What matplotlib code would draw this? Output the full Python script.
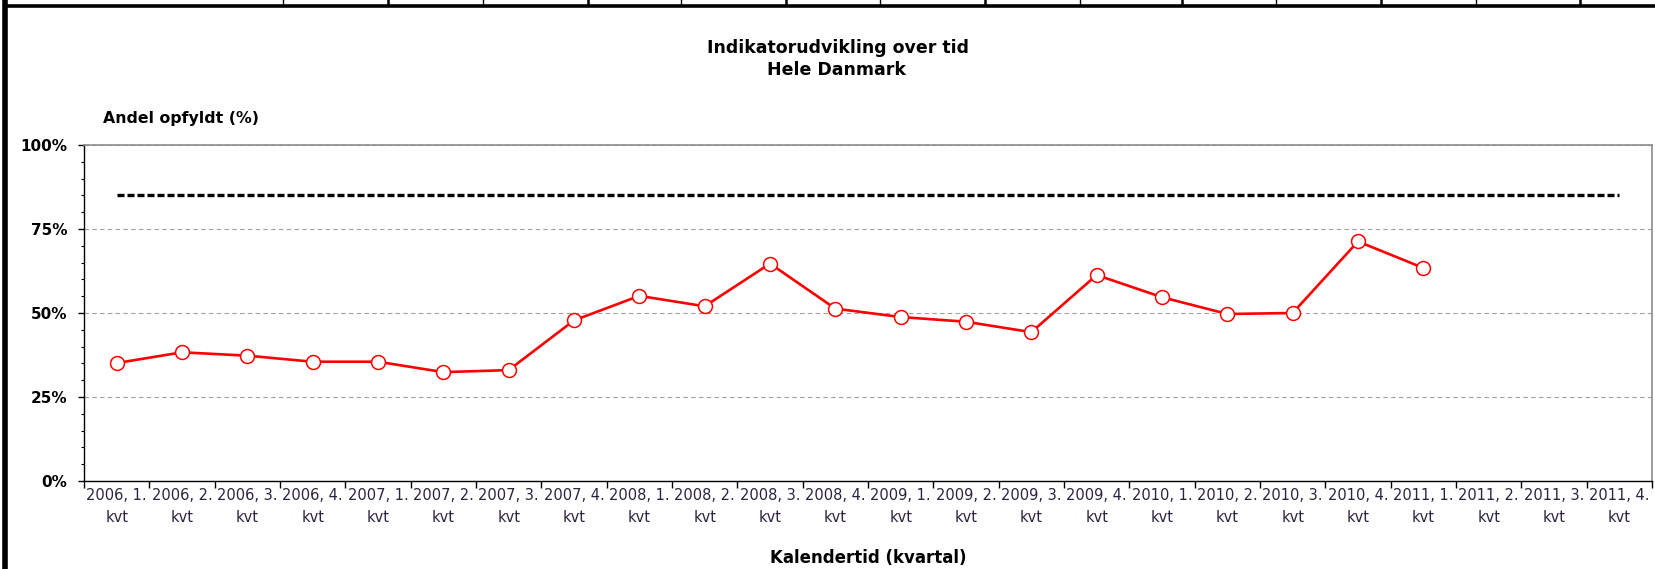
import numpy as np
import matplotlib
matplotlib.use("Agg")
import matplotlib.pyplot as plt
from matplotlib.lines import Line2D
from matplotlib.ticker import MultipleLocator, FixedLocator

# ==========================
# Data
# ==========================
categories = [
    f"{year}, {q}.\nkvt" for year in range(2006, 2012) for q in range(1, 5)
]
values = [35.1, 38.3, 37.3, 35.5, 35.5, 32.4, 33.0, 47.8,
          55.1, 52.0, 64.7, 51.3, 48.8, 47.4, 44.3, 61.3,
          54.7, 49.7, 50.0, 71.3, 63.4]
target = 85
yticks = [0, 25, 50, 75, 100]
ytick_labels = ["0%", "25%", "50%", "75%", "100%"]

title_lines = ["Indikatorudvikling over tid", "Hele Danmark"]
ylabel = "Andel opfyldt (%)"
xlabel = "Kalendertid (kvartal)"

# ==========================
# Figure
# ==========================
W, H = 1656, 569
fig = plt.figure(figsize=(W / 100, H / 100), dpi=100)
fig.patch.set_facecolor("white")

ax = fig.add_axes([84 / W, 1 - 481 / H, (1652 - 84) / W, (481 - 145) / H])

x = np.arange(len(values))
ax.plot(x, values, color="#ff0000", linewidth=1.9,
        marker="o", markersize=10, markerfacecolor="white",
        markeredgecolor="#ff0000", markeredgewidth=1.1, zorder=4)

ax.hlines(target, 0, len(categories) - 1, colors="black",
          linewidth=2.4, linestyles=(0, (2.1, 0.9)), zorder=3)

ax.set_xlim(-0.5, len(categories) - 0.5)
ax.set_ylim(0, 100)

# x ticks: labels at centres, tick marks at boundaries
ax.xaxis.set_major_locator(FixedLocator(np.arange(len(categories))))
ax.set_xticklabels(categories, fontsize=10.5, color="#2d2340",
                   linespacing=1.6)
ax.xaxis.set_minor_locator(FixedLocator(np.arange(-0.5, len(categories))))
ax.tick_params(axis="x", which="major", length=0, pad=5)
ax.tick_params(axis="x", which="minor", length=5, width=1, color="black",
               direction="out")

# y ticks
ax.set_yticks(yticks)
ax.set_yticklabels(ytick_labels, fontsize=11, fontweight="bold")
ax.yaxis.set_minor_locator(MultipleLocator(5))
ax.tick_params(axis="y", which="major", length=4, width=1, pad=8)
ax.tick_params(axis="y", which="minor", length=2.5, width=0.8)

ax.grid(axis="y", which="major", color="#a0a0a0",
        linestyle=(0, (4, 3)), linewidth=0.8, zorder=1)
ax.set_axisbelow(True)

for side in ["left", "bottom"]:
    ax.spines[side].set_color("black")
    ax.spines[side].set_linewidth(1.0)
for side in ["top", "right"]:
    ax.spines[side].set_color("#8c8c8c")
    ax.spines[side].set_linewidth(1.2)

# ==========================
# Text
# ==========================
fig.text(838 / W, 1 - 48 / H, title_lines[0], ha="center", va="center",
         fontsize=12.5, fontweight="bold")
fig.text(836 / W, 1 - 70 / H, title_lines[1], ha="center", va="center",
         fontsize=12.5, fontweight="bold")
fig.text(103 / W, 1 - 118 / H, ylabel, ha="left", va="center",
         fontsize=11.3, fontweight="bold")
fig.text(868 / W, 1 - 558 / H, xlabel, ha="center", va="center",
         fontsize=12, fontweight="bold")

# ==========================
# Surrounding sheet borders
# ==========================
fig.add_artist(Line2D([5 / W, 5 / W], [0, 1], color="black",
                      linewidth=4, transform=fig.transFigure))
fig.add_artist(Line2D([5 / W, 1], [1 - 5.5 / H, 1 - 5.5 / H], color="black",
                      linewidth=2.6, transform=fig.transFigure))
for i, sx in enumerate([283, 388, 483, 588, 681, 786, 880, 985, 1080, 1182,
                        1276, 1381, 1476, 1580]):
    fig.add_artist(Line2D([sx / W, sx / W], [1 - 5 / H, 1], color="black",
                          linewidth=1.8 if i % 2 == 1 else 1.0,
                          transform=fig.transFigure))

fig.savefig("out.png", dpi=100, facecolor="white")
